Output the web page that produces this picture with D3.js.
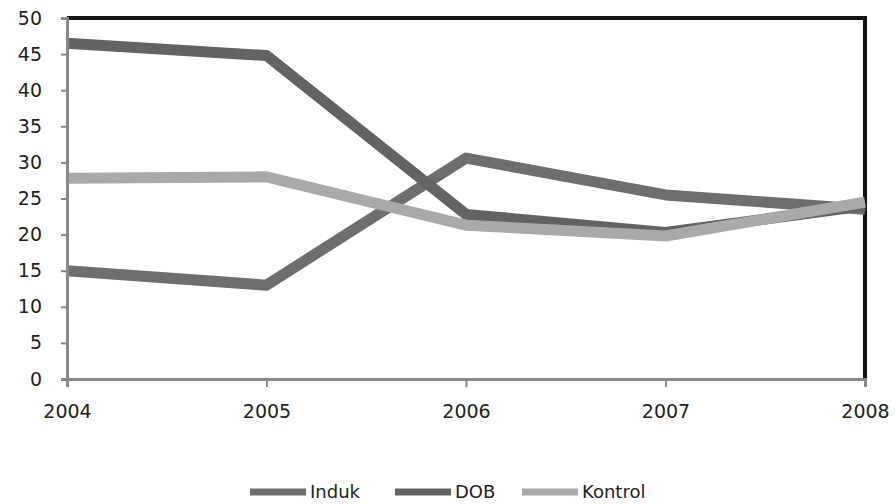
<!DOCTYPE html>
<html>
<head>
<meta charset="utf-8">
<script src="https://cdn.jsdelivr.net/npm/d3@7"></script>
<style>
body{margin:0;background:#fff}
text{font-family:"DejaVu Sans",Verdana,sans-serif;fill:#222}
</style>
</head>
<body>
<script>
const years = ["2004","2005","2006","2007","2008"]
const induk = [15, 13, 30.6, 25.5, 23.5]
const dob = [46.5, 44.8, 22.8, 20.3, 24]
const kontrol = [27.8, 28, 21.3, 19.8, 24.5]
const yTicks = [0,5,10,15,20,25,30,35,40,45,50]

const series = [
    {name:"Induk", values:induk, color:"#6e6e6e"},
    {name:"DOB", values:dob, color:"#636363"},
    {name:"Kontrol", values:kontrol, color:"#a9a9a9"}
]

const width = 895, height = 504
const svg = d3.select("body").append("svg")
    .attr("width",width).attr("height",height)

const x = d3.scalePoint().domain(years).range([67,865])
const y = d3.scaleLinear().domain([0,50]).range([379,18])

// frame: black top and right
svg.append("path")
    .attr("d",`M${x("2004")},${y(50)}H${x("2008")}V${y(0)}`)
    .attr("fill","none").attr("stroke","#111").attr("stroke-width",4)

const line = d3.line().x((d,i)=>x(years[i])).y(d=>y(d))

svg.selectAll(".series")
    .data(series)
    .join("path")
    .attr("d",d=>line(d.values))
    .attr("fill","none")
    .attr("stroke",d=>d.color)
    .attr("stroke-width",11)
    .attr("stroke-linejoin","round")

// y axis
const yAxis = svg.append("g").attr("transform",`translate(${x("2004")},0)`)
    .call(d3.axisLeft(y).tickValues(yTicks).tickSize(6).tickPadding(19))
yAxis.select(".domain").attr("stroke","#888").attr("stroke-width",3)
yAxis.selectAll(".tick line").attr("stroke","#888").attr("stroke-width",2)
yAxis.selectAll("text").style("font-size","19px").attr("fill","#222")

// x axis
const xAxis = svg.append("g").attr("transform",`translate(0,${y(0)})`)
    .call(d3.axisBottom(x).tickSize(8).tickPadding(18))
xAxis.select(".domain").attr("stroke","#888").attr("stroke-width",3)
xAxis.selectAll(".tick line").attr("stroke","#888").attr("stroke-width",2)
xAxis.selectAll("text").style("font-size","19px").attr("fill","#222")

// legend
const legendX = [250,395,522]
const legend = svg.selectAll(".legend")
    .data(series)
    .join("g")
    .attr("transform",(d,i)=>`translate(${legendX[i]},492)`)
legend.append("line").attr("x1",0).attr("x2",56)
    .attr("stroke",d=>d.color).attr("stroke-width",7)
legend.append("text").attr("x",60).attr("dy","0.36em")
    .style("font-size","18px").text(d=>d.name)
</script>
</body>
</html>
